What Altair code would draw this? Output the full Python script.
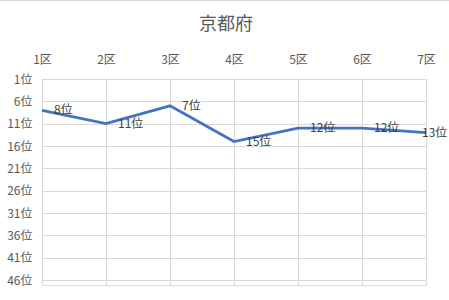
import altair as alt
import pandas as pd

districts = ["1区", "2区", "3区", "4区", "5区", "6区", "7区"]
ranks = [8, 11, 7, 15, 12, 12, 13]
rank_ticks = [1, 6, 11, 16, 21, 26, 31, 36, 41, 46]
title_text = "京都府"

df = pd.DataFrame({"district": districts, "rank": ranks})
df["label"] = df["rank"].astype(str) + "位"

FONT = "Noto Sans CJK JP"

x = alt.X("district:N", sort=districts,
          scale=alt.Scale(type="point", padding=0),
          axis=alt.Axis(orient="top", title=None, labelAngle=0, domain=False, ticks=False,
                        grid=True, gridColor="#d9d9d9", labelPadding=13,
                        labelFontSize=12, labelColor="#595959", labelFont=FONT))
y = alt.Y("rank:Q",
          scale=alt.Scale(domain=[1, 47.1], reverse=True, nice=False, zero=False),
          axis=alt.Axis(title=None, values=rank_ticks, tickCount=20, domain=False, ticks=False,
                        grid=True, gridColor="#d9d9d9", labelPadding=10,
                        labelOverlap=False, labelFlush=False,
                        labelExpr="datum.value + '位'",
                        labelFontSize=12, labelColor="#595959", labelFont=FONT))

base = alt.Chart(df)
line = base.mark_line(color="#4472C4", strokeWidth=2.75).encode(x=x, y=y)
labels = base.transform_filter("datum.district != '7区'").mark_text(
    align="left", baseline="middle", dx=12, fontSize=12, color="#404040", font=FONT
).encode(x=alt.X("district:N", sort=districts), y="rank:Q", text="label:N")
last_label = base.transform_filter("datum.district == '7区'").mark_text(
    align="left", baseline="middle", dx=-4, fontSize=12, color="#404040", font=FONT
).encode(x=alt.X("district:N", sort=districts), y="rank:Q", text="label:N")
border = alt.Chart(df).mark_rule(color="#d9d9d9", strokeWidth=1).encode(
    x=alt.value(-42), x2=alt.value(407), y=alt.value(-78.5))
title = alt.Chart(pd.DataFrame({"t": [title_text]})).mark_text(
    fontSize=18, color="#595959", font=FONT, align="center", baseline="middle"
).encode(x=alt.value(184), y=alt.value(-54), text="t:N")

chart = alt.layer(line, labels, last_label, border, title).properties(
    width=384, height=206,
    autosize=alt.AutoSizeParams(type="none"),
    padding={"left": 42, "top": 79, "right": 23, "bottom": 15},
).configure_view(stroke=None).configure(background="white")

chart.save("out.html", embed_options={"renderer": "svg", "actions": False})
